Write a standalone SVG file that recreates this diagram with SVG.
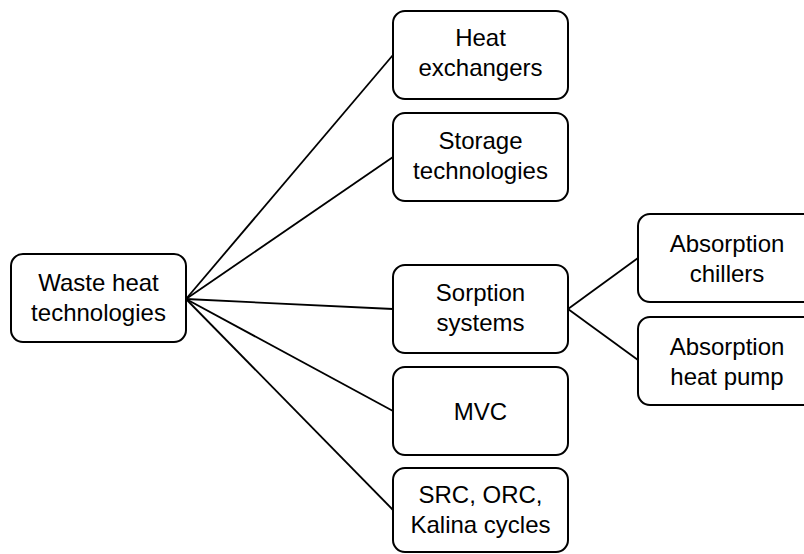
<svg xmlns="http://www.w3.org/2000/svg" width="804" height="554" viewBox="0 0 804 554">
<style>
.box{fill:#fff;stroke:#000;stroke-width:2}
.t{font-family:"Liberation Sans",Arial,sans-serif;font-size:24px;fill:#000;text-anchor:middle}
.c{stroke:#000;stroke-width:1.8;fill:none}
</style>
<rect width="804" height="554" fill="#fff"/>
<g id="connectors">
<line class="c" x1="186" y1="299" x2="393" y2="55"/>
<line class="c" x1="186" y1="299" x2="393" y2="157"/>
<line class="c" x1="186" y1="299" x2="393" y2="309"/>
<line class="c" x1="186" y1="299" x2="393" y2="411"/>
<line class="c" x1="186" y1="299" x2="393" y2="510"/>
<line class="c" x1="568" y1="309" x2="638" y2="258"/>
<line class="c" x1="568" y1="309" x2="638" y2="360"/>
</g>
<g id="waste">
<rect class="box" x="11" y="254" width="175" height="88" rx="12"/>
<text class="t" x="98.5" y="291">Waste heat</text>
<text class="t" x="98.5" y="321">technologies</text>
</g>
<g id="heatex">
<rect class="box" x="393" y="11" width="175" height="88" rx="12"/>
<text class="t" x="480.5" y="46">Heat</text>
<text class="t" x="480.5" y="76">exchangers</text>
</g>
<g id="storage">
<rect class="box" x="393" y="113" width="175" height="88" rx="12"/>
<text class="t" x="480.5" y="149">Storage</text>
<text class="t" x="480.5" y="179">technologies</text>
</g>
<g id="sorption">
<rect class="box" x="393" y="265" width="175" height="88" rx="12"/>
<text class="t" x="480.5" y="301">Sorption</text>
<text class="t" x="480.5" y="331">systems</text>
</g>
<g id="mvc">
<rect class="box" x="393" y="367" width="175" height="88" rx="12"/>
<text class="t" x="480.5" y="420">MVC</text>
</g>
<g id="src">
<rect class="box" x="393" y="468" width="175" height="84" rx="12"/>
<text class="t" x="480.5" y="503">SRC, ORC,</text>
<text class="t" x="480.5" y="533">Kalina cycles</text>
</g>
<g id="chillers">
<rect class="box" x="638" y="214" width="178" height="88" rx="12"/>
<text class="t" x="727" y="252">Absorption</text>
<text class="t" x="727" y="282">chillers</text>
</g>
<g id="heatpump">
<rect class="box" x="638" y="317" width="178" height="88" rx="12"/>
<text class="t" x="727" y="355">Absorption</text>
<text class="t" x="727" y="385">heat pump</text>
</g>
</svg>
